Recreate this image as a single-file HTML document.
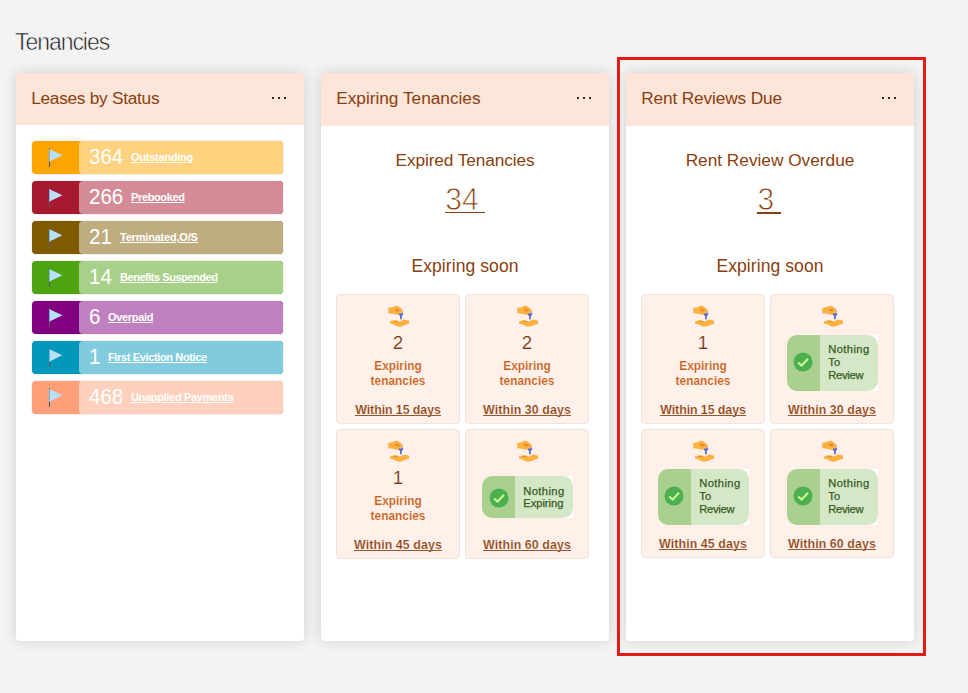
<!DOCTYPE html>
<html><head><meta charset="utf-8">
<style>
*{box-sizing:border-box;margin:0;padding:0}
html,body{width:968px;height:693px;overflow:hidden;background:#f3f3f3;font-family:"Liberation Sans",sans-serif;}
.abs{position:absolute}
#title{position:absolute;left:15px;top:26.5px;font-size:23px;color:#141414;line-height:30px;letter-spacing:-1.05px;white-space:nowrap;-webkit-text-stroke:0.6px #f3f3f3}
.card{position:absolute;top:73px;width:288px;height:568px;background:#fff;border-radius:0 0 4px 4px;box-shadow:0 0 14px rgba(0,0,0,.14)}
.hdr{position:absolute;left:0;top:0;width:288px;height:53px;background:#fde5da}
.hdr .t{position:absolute;left:15.2px;top:13px;font-size:17.3px;line-height:24px;color:#8a3f10;white-space:nowrap}
.dots{position:absolute;left:256px;top:24px;width:16px;height:3px}
.dots i{position:absolute;top:0;width:2px;height:2px;background:#2b2b2b}
.row{position:absolute;left:16px;width:251px;height:33px;border-radius:4px;overflow:hidden;box-shadow:0 0 1.5px rgba(0,0,40,.25)}
.row .lt{position:absolute;left:47px;top:0;width:204px;height:33px;border-radius:4px}
.row .n{position:absolute;left:57px;top:3px;font-size:21px;line-height:26px;color:#fff;white-space:nowrap;transform-origin:0 20px;transform:scale(0.975,1.07)}
.row .l{position:absolute;top:9px;font-size:11px;font-weight:bold;line-height:14px;color:#fff;text-decoration:underline;white-space:nowrap}
.row svg{position:absolute;left:16px;top:6px}
.big{position:absolute;left:0;width:288px;text-align:center;color:#8a3f10;white-space:nowrap}
.tile{position:absolute;width:124px;height:130px;background:#fff1ea;border:1px solid #f0e3dd;border-radius:4px}
.tile .num{position:absolute;left:0;top:37px;width:122px;text-align:center;font-size:18.7px;line-height:22px;color:#74340c;-webkit-text-stroke:0.2px #fff1ea}
.tile .et{position:absolute;left:0;top:64.3px;width:122px;text-align:center;font-size:11.9px;font-weight:bold;line-height:15px;color:#c65f18;-webkit-text-stroke:0.15px #fff1ea}
.tile .w{position:absolute;left:0;width:122px;display:flex;justify-content:center}
.tile .w span{display:block;font-size:12.4px;font-weight:bold;line-height:10.3px;color:#8a3f10;white-space:nowrap;letter-spacing:0.09px;-webkit-text-stroke:0.2px #fff1ea;border-bottom:1px solid #99562b}
.tile svg.hand{position:absolute;left:50.6px;top:10.2px}
.ul{text-decoration:underline;text-decoration-thickness:1px;text-underline-offset:4px}
.bd{position:absolute}
.bd .bl{position:absolute;left:0;top:0;height:100%;background:#a9d08e;border-radius:10px 0 0 10px}
.bd .br{position:absolute;top:0;height:100%;background:#fff}
.bd .br b{position:absolute;left:0;top:0;width:100%;height:100%;background:#d4e8c8;border-radius:0 10px 10px 0}
.bd .ck{position:absolute}
.bd .bt{position:absolute;font-size:11.2px;line-height:13px;color:#37591f;white-space:nowrap;font-weight:normal;-webkit-text-stroke:0.25px #37591f}
.bn{position:absolute;font-size:30px;line-height:34px;color:#8a3f10;white-space:nowrap;-webkit-text-stroke:0.8px #fff;transform-origin:0 27px;transform:scaleY(1.04)}
.un{position:absolute;height:1.6px;margin-top:0.5px;background:#8a3f10}
</style></head><body>
<div id="title">Tenancies</div>

<div class="card" style="left:16px">
 <div class="hdr" style="height:52px"><div class="t" style="letter-spacing:-0.28px">Leases by Status</div><div class="dots"><i style="left:0"></i><i style="left:6px"></i><i style="left:12px"></i></div></div>
 <div class="row" style="top:68px;background:#ffa500"><div class="lt" style="background:#ffd280"></div><svg width="16" height="22" viewBox="0 0 16 22"><rect x="1" y="1.1" width="1" height="18.9" fill="#555"/><path d="M1 1.9 L14.4 8.3 L1 14.8 Z" fill="#badffa"/><rect x="1" y="2.2" width="1" height="12.2" fill="#6db4ea"/></svg><div class="n">364</div><div class="l" style="left:99px;letter-spacing:-0.25px">Outstanding</div></div>
 <div class="row" style="top:108px;background:#a6192e"><div class="lt" style="background:#d38c97"></div><svg width="16" height="22" viewBox="0 0 16 22"><rect x="1" y="1.1" width="1" height="18.9" fill="#555"/><path d="M1 1.9 L14.4 8.3 L1 14.8 Z" fill="#badffa"/><rect x="1" y="2.2" width="1" height="12.2" fill="#6db4ea"/></svg><div class="n">266</div><div class="l" style="left:99px;letter-spacing:-0.36px">Prebooked</div></div>
 <div class="row" style="top:148px;background:#7f5a00"><div class="lt" style="background:#bfad80"></div><svg width="16" height="22" viewBox="0 0 16 22"><rect x="1" y="1.1" width="1" height="18.9" fill="#555"/><path d="M1 1.9 L14.4 8.3 L1 14.8 Z" fill="#badffa"/><rect x="1" y="2.2" width="1" height="12.2" fill="#6db4ea"/></svg><div class="n">21</div><div class="l" style="left:88px;letter-spacing:-0.2px">Terminated,O/S</div></div>
 <div class="row" style="top:188px;background:#4ea310"><div class="lt" style="background:#a7d188"></div><svg width="16" height="22" viewBox="0 0 16 22"><rect x="1" y="1.1" width="1" height="18.9" fill="#555"/><path d="M1 1.9 L14.4 8.3 L1 14.8 Z" fill="#badffa"/><rect x="1" y="2.2" width="1" height="12.2" fill="#6db4ea"/></svg><div class="n">14</div><div class="l" style="left:88px;letter-spacing:-0.46px">Benefits Suspended</div></div>
 <div class="row" style="top:228px;background:#800080"><div class="lt" style="background:#c080c0"></div><svg width="16" height="22" viewBox="0 0 16 22"><rect x="1" y="1.1" width="1" height="18.9" fill="#555"/><path d="M1 1.9 L14.4 8.3 L1 14.8 Z" fill="#badffa"/><rect x="1" y="2.2" width="1" height="12.2" fill="#6db4ea"/></svg><div class="n">6</div><div class="l" style="left:76px;letter-spacing:-0.33px">Overpaid</div></div>
 <div class="row" style="top:268px;background:#0099bc"><div class="lt" style="background:#80ccde"></div><svg width="16" height="22" viewBox="0 0 16 22"><rect x="1" y="1.1" width="1" height="18.9" fill="#555"/><path d="M1 1.9 L14.4 8.3 L1 14.8 Z" fill="#badffa"/><rect x="1" y="2.2" width="1" height="12.2" fill="#6db4ea"/></svg><div class="n">1</div><div class="l" style="left:76px;letter-spacing:-0.36px">First Eviction Notice</div></div>
 <div class="row" style="top:308px;background:#ffa07a"><div class="lt" style="background:#ffd0bd"></div><svg width="16" height="22" viewBox="0 0 16 22"><rect x="1" y="1.1" width="1" height="18.9" fill="#555"/><path d="M1 1.9 L14.4 8.3 L1 14.8 Z" fill="#badffa"/><rect x="1" y="2.2" width="1" height="12.2" fill="#6db4ea"/></svg><div class="n">468</div><div class="l" style="left:99px;letter-spacing:-0.32px">Unapplied Payments</div></div>
</div>
<div class="card" style="left:321px">
 <div class="hdr"><div class="t" style="letter-spacing:-0.02px">Expiring Tenancies</div><div class="dots"><i style="left:0"></i><i style="left:6px"></i><i style="left:12px"></i></div></div>
 <div class="big" style="top:75px;font-size:17.3px;line-height:24px;letter-spacing:-0.11px">Expired Tenancies</div>
 <div class="bn" style="left:124.3px;top:110px">34</div><div class="un" style="left:124.3px;top:138.4px;width:39.4px"></div>
 <div class="big" style="top:181px;font-size:17.5px;line-height:24px;letter-spacing:0.08px">Expiring soon</div>
 <div class="tile" style="left:15px;top:221px;height:130px"><svg class="hand" width="22" height="22" viewBox="0 0 22 22"><path d="M0.3 2.8 L4.5 2.2 Q7 0.8 8.6 0.8 Q12.6 2 15.4 6.4 L12.8 7.6 L11.6 9.8 Q8 10 5 8.8 L0.3 8.2 Z" fill="#fbb040"/><path d="M6.6 4.4 Q8.6 3 11.6 4.8 Q11.8 6.2 10 6.6 Q7 6.4 6.6 4.4Z" fill="#de8f28"/><path d="M12.4 8.4 Q13 7 14.4 7.2 Q15.5 7.6 15.3 8.6Z" fill="#8f9cdc"/><path d="M10.7 8.9 Q12.8 8 15.3 8.5 Q15.4 10.3 13.8 10.7 L13.8 13.8 L12.95 14.7 L12.1 13.8 L12.1 10.7 Q10.7 10.4 10.7 8.9Z" fill="#5566c4"/><path d="M9 18.6 L13.6 17.4 M10.6 19.6 L14.6 18.2" stroke="#fdd28a" stroke-width="0.7" fill="none"/><path d="M2 16.6 L6 15.2 Q9.5 15.2 12 16.4 L15.4 14.8 Q17.6 14.4 21.2 15.8 L20.8 19 L18 19.4 Q14 21.6 11 21.8 Q8.6 21.2 5.6 19.4 L2 18.4 Z" fill="#fbb040"/><path d="M4.8 16 Q7.6 15.2 9.6 16.6 L8.4 17.4 Q6.2 17 4.8 16Z" fill="#de8f28"/></svg><div class="num">2</div><div class="et">Expiring<br>tenancies</div><div class="w" style="top:109.55px"><span style="letter-spacing:-0.08px">Within 15 days</span></div></div>
 <div class="tile" style="left:144px;top:221px;height:130px"><svg class="hand" width="22" height="22" viewBox="0 0 22 22"><path d="M0.3 2.8 L4.5 2.2 Q7 0.8 8.6 0.8 Q12.6 2 15.4 6.4 L12.8 7.6 L11.6 9.8 Q8 10 5 8.8 L0.3 8.2 Z" fill="#fbb040"/><path d="M6.6 4.4 Q8.6 3 11.6 4.8 Q11.8 6.2 10 6.6 Q7 6.4 6.6 4.4Z" fill="#de8f28"/><path d="M12.4 8.4 Q13 7 14.4 7.2 Q15.5 7.6 15.3 8.6Z" fill="#8f9cdc"/><path d="M10.7 8.9 Q12.8 8 15.3 8.5 Q15.4 10.3 13.8 10.7 L13.8 13.8 L12.95 14.7 L12.1 13.8 L12.1 10.7 Q10.7 10.4 10.7 8.9Z" fill="#5566c4"/><path d="M9 18.6 L13.6 17.4 M10.6 19.6 L14.6 18.2" stroke="#fdd28a" stroke-width="0.7" fill="none"/><path d="M2 16.6 L6 15.2 Q9.5 15.2 12 16.4 L15.4 14.8 Q17.6 14.4 21.2 15.8 L20.8 19 L18 19.4 Q14 21.6 11 21.8 Q8.6 21.2 5.6 19.4 L2 18.4 Z" fill="#fbb040"/><path d="M4.8 16 Q7.6 15.2 9.6 16.6 L8.4 17.4 Q6.2 17 4.8 16Z" fill="#de8f28"/></svg><div class="num">2</div><div class="et">Expiring<br>tenancies</div><div class="w" style="top:109.55px"><span>Within 30 days</span></div></div>
 <div class="tile" style="left:15px;top:356px;height:130px"><svg class="hand" width="22" height="22" viewBox="0 0 22 22"><path d="M0.3 2.8 L4.5 2.2 Q7 0.8 8.6 0.8 Q12.6 2 15.4 6.4 L12.8 7.6 L11.6 9.8 Q8 10 5 8.8 L0.3 8.2 Z" fill="#fbb040"/><path d="M6.6 4.4 Q8.6 3 11.6 4.8 Q11.8 6.2 10 6.6 Q7 6.4 6.6 4.4Z" fill="#de8f28"/><path d="M12.4 8.4 Q13 7 14.4 7.2 Q15.5 7.6 15.3 8.6Z" fill="#8f9cdc"/><path d="M10.7 8.9 Q12.8 8 15.3 8.5 Q15.4 10.3 13.8 10.7 L13.8 13.8 L12.95 14.7 L12.1 13.8 L12.1 10.7 Q10.7 10.4 10.7 8.9Z" fill="#5566c4"/><path d="M9 18.6 L13.6 17.4 M10.6 19.6 L14.6 18.2" stroke="#fdd28a" stroke-width="0.7" fill="none"/><path d="M2 16.6 L6 15.2 Q9.5 15.2 12 16.4 L15.4 14.8 Q17.6 14.4 21.2 15.8 L20.8 19 L18 19.4 Q14 21.6 11 21.8 Q8.6 21.2 5.6 19.4 L2 18.4 Z" fill="#fbb040"/><path d="M4.8 16 Q7.6 15.2 9.6 16.6 L8.4 17.4 Q6.2 17 4.8 16Z" fill="#de8f28"/></svg><div class="num">1</div><div class="et">Expiring<br>tenancies</div><div class="w" style="top:109.55px"><span>Within 45 days</span></div></div>
 <div class="tile" style="left:144px;top:356px;height:130px"><svg class="hand" width="22" height="22" viewBox="0 0 22 22"><path d="M0.3 2.8 L4.5 2.2 Q7 0.8 8.6 0.8 Q12.6 2 15.4 6.4 L12.8 7.6 L11.6 9.8 Q8 10 5 8.8 L0.3 8.2 Z" fill="#fbb040"/><path d="M6.6 4.4 Q8.6 3 11.6 4.8 Q11.8 6.2 10 6.6 Q7 6.4 6.6 4.4Z" fill="#de8f28"/><path d="M12.4 8.4 Q13 7 14.4 7.2 Q15.5 7.6 15.3 8.6Z" fill="#8f9cdc"/><path d="M10.7 8.9 Q12.8 8 15.3 8.5 Q15.4 10.3 13.8 10.7 L13.8 13.8 L12.95 14.7 L12.1 13.8 L12.1 10.7 Q10.7 10.4 10.7 8.9Z" fill="#5566c4"/><path d="M9 18.6 L13.6 17.4 M10.6 19.6 L14.6 18.2" stroke="#fdd28a" stroke-width="0.7" fill="none"/><path d="M2 16.6 L6 15.2 Q9.5 15.2 12 16.4 L15.4 14.8 Q17.6 14.4 21.2 15.8 L20.8 19 L18 19.4 Q14 21.6 11 21.8 Q8.6 21.2 5.6 19.4 L2 18.4 Z" fill="#fbb040"/><path d="M4.8 16 Q7.6 15.2 9.6 16.6 L8.4 17.4 Q6.2 17 4.8 16Z" fill="#de8f28"/></svg><div class="bd" style="left:16px;top:46px;width:90.5px;height:42px"><div class="bl" style="width:33px"></div><div class="br" style="left:33px;width:57.5px"><b></b></div><svg class="ck" style="left:6.5px;top:11.9px" width="20" height="20" viewBox="0 0 20 20"><circle cx="10" cy="10" r="9.5" fill="#4caf50"/><path d="M5.2 10.6 L8.6 13.6 L15 6.8" fill="none" stroke="#ccff90" stroke-width="2"/></svg><div class="bt" style="left:41.3px;top:8.7px;line-height:12.4px"><span style="letter-spacing:0.38px">Nothing</span><br><span style="letter-spacing:-0.05px">Expiring</span></div></div><div class="w" style="top:109.55px"><span>Within 60 days</span></div></div>
</div>
<div class="abs" style="left:617px;top:57px;width:309px;height:599px;border:3px solid #e71919;z-index:5"></div>
<div class="card" style="left:626px">
 <div class="hdr"><div class="t" style="letter-spacing:-0.15px">Rent Reviews Due</div><div class="dots"><i style="left:0"></i><i style="left:6px"></i><i style="left:12px"></i></div></div>
 <div class="big" style="top:75px;font-size:17.3px;line-height:24px;letter-spacing:-0.02px">Rent Review Overdue</div>
 <div class="bn" style="left:131.4px;top:110px">3</div><div class="un" style="left:131.4px;top:138.6px;width:23.6px"></div>
 <div class="big" style="top:181px;font-size:17.5px;line-height:24px;letter-spacing:0.08px">Expiring soon</div>
 <div class="tile" style="left:15px;top:221px;height:130px"><svg class="hand" width="22" height="22" viewBox="0 0 22 22"><path d="M0.3 2.8 L4.5 2.2 Q7 0.8 8.6 0.8 Q12.6 2 15.4 6.4 L12.8 7.6 L11.6 9.8 Q8 10 5 8.8 L0.3 8.2 Z" fill="#fbb040"/><path d="M6.6 4.4 Q8.6 3 11.6 4.8 Q11.8 6.2 10 6.6 Q7 6.4 6.6 4.4Z" fill="#de8f28"/><path d="M12.4 8.4 Q13 7 14.4 7.2 Q15.5 7.6 15.3 8.6Z" fill="#8f9cdc"/><path d="M10.7 8.9 Q12.8 8 15.3 8.5 Q15.4 10.3 13.8 10.7 L13.8 13.8 L12.95 14.7 L12.1 13.8 L12.1 10.7 Q10.7 10.4 10.7 8.9Z" fill="#5566c4"/><path d="M9 18.6 L13.6 17.4 M10.6 19.6 L14.6 18.2" stroke="#fdd28a" stroke-width="0.7" fill="none"/><path d="M2 16.6 L6 15.2 Q9.5 15.2 12 16.4 L15.4 14.8 Q17.6 14.4 21.2 15.8 L20.8 19 L18 19.4 Q14 21.6 11 21.8 Q8.6 21.2 5.6 19.4 L2 18.4 Z" fill="#fbb040"/><path d="M4.8 16 Q7.6 15.2 9.6 16.6 L8.4 17.4 Q6.2 17 4.8 16Z" fill="#de8f28"/></svg><div class="num">1</div><div class="et">Expiring<br>tenancies</div><div class="w" style="top:109.55px"><span style="letter-spacing:-0.08px">Within 15 days</span></div></div>
 <div class="tile" style="left:144px;top:221px;height:130px"><svg class="hand" width="22" height="22" viewBox="0 0 22 22"><path d="M0.3 2.8 L4.5 2.2 Q7 0.8 8.6 0.8 Q12.6 2 15.4 6.4 L12.8 7.6 L11.6 9.8 Q8 10 5 8.8 L0.3 8.2 Z" fill="#fbb040"/><path d="M6.6 4.4 Q8.6 3 11.6 4.8 Q11.8 6.2 10 6.6 Q7 6.4 6.6 4.4Z" fill="#de8f28"/><path d="M12.4 8.4 Q13 7 14.4 7.2 Q15.5 7.6 15.3 8.6Z" fill="#8f9cdc"/><path d="M10.7 8.9 Q12.8 8 15.3 8.5 Q15.4 10.3 13.8 10.7 L13.8 13.8 L12.95 14.7 L12.1 13.8 L12.1 10.7 Q10.7 10.4 10.7 8.9Z" fill="#5566c4"/><path d="M9 18.6 L13.6 17.4 M10.6 19.6 L14.6 18.2" stroke="#fdd28a" stroke-width="0.7" fill="none"/><path d="M2 16.6 L6 15.2 Q9.5 15.2 12 16.4 L15.4 14.8 Q17.6 14.4 21.2 15.8 L20.8 19 L18 19.4 Q14 21.6 11 21.8 Q8.6 21.2 5.6 19.4 L2 18.4 Z" fill="#fbb040"/><path d="M4.8 16 Q7.6 15.2 9.6 16.6 L8.4 17.4 Q6.2 17 4.8 16Z" fill="#de8f28"/></svg><div class="bd" style="left:16px;top:40px;width:90.5px;height:56px"><div class="bl" style="width:33px"></div><div class="br" style="left:33px;width:57.5px"><b></b></div><svg class="ck" style="left:6px;top:17.2px" width="20" height="20" viewBox="0 0 20 20"><circle cx="10" cy="10" r="9.5" fill="#4caf50"/><path d="M5.2 10.6 L8.6 13.6 L15 6.8" fill="none" stroke="#ccff90" stroke-width="2"/></svg><div class="bt" style="left:41.3px;top:8px"><span style="letter-spacing:0.38px">Nothing</span><br>To<br><span style="letter-spacing:-0.3px">Review</span></div></div><div class="w" style="top:109.55px"><span>Within 30 days</span></div></div>
 <div class="tile" style="left:15px;top:356px;height:129px"><svg class="hand" width="22" height="22" viewBox="0 0 22 22"><path d="M0.3 2.8 L4.5 2.2 Q7 0.8 8.6 0.8 Q12.6 2 15.4 6.4 L12.8 7.6 L11.6 9.8 Q8 10 5 8.8 L0.3 8.2 Z" fill="#fbb040"/><path d="M6.6 4.4 Q8.6 3 11.6 4.8 Q11.8 6.2 10 6.6 Q7 6.4 6.6 4.4Z" fill="#de8f28"/><path d="M12.4 8.4 Q13 7 14.4 7.2 Q15.5 7.6 15.3 8.6Z" fill="#8f9cdc"/><path d="M10.7 8.9 Q12.8 8 15.3 8.5 Q15.4 10.3 13.8 10.7 L13.8 13.8 L12.95 14.7 L12.1 13.8 L12.1 10.7 Q10.7 10.4 10.7 8.9Z" fill="#5566c4"/><path d="M9 18.6 L13.6 17.4 M10.6 19.6 L14.6 18.2" stroke="#fdd28a" stroke-width="0.7" fill="none"/><path d="M2 16.6 L6 15.2 Q9.5 15.2 12 16.4 L15.4 14.8 Q17.6 14.4 21.2 15.8 L20.8 19 L18 19.4 Q14 21.6 11 21.8 Q8.6 21.2 5.6 19.4 L2 18.4 Z" fill="#fbb040"/><path d="M4.8 16 Q7.6 15.2 9.6 16.6 L8.4 17.4 Q6.2 17 4.8 16Z" fill="#de8f28"/></svg><div class="bd" style="left:16px;top:38.8px;width:90.5px;height:56px"><div class="bl" style="width:33px"></div><div class="br" style="left:33px;width:57.5px"><b></b></div><svg class="ck" style="left:6px;top:17.2px" width="20" height="20" viewBox="0 0 20 20"><circle cx="10" cy="10" r="9.5" fill="#4caf50"/><path d="M5.2 10.6 L8.6 13.6 L15 6.8" fill="none" stroke="#ccff90" stroke-width="2"/></svg><div class="bt" style="left:41.3px;top:8px"><span style="letter-spacing:0.38px">Nothing</span><br>To<br><span style="letter-spacing:-0.3px">Review</span></div></div><div class="w" style="top:108.55px"><span>Within 45 days</span></div></div>
 <div class="tile" style="left:144px;top:356px;height:129px"><svg class="hand" width="22" height="22" viewBox="0 0 22 22"><path d="M0.3 2.8 L4.5 2.2 Q7 0.8 8.6 0.8 Q12.6 2 15.4 6.4 L12.8 7.6 L11.6 9.8 Q8 10 5 8.8 L0.3 8.2 Z" fill="#fbb040"/><path d="M6.6 4.4 Q8.6 3 11.6 4.8 Q11.8 6.2 10 6.6 Q7 6.4 6.6 4.4Z" fill="#de8f28"/><path d="M12.4 8.4 Q13 7 14.4 7.2 Q15.5 7.6 15.3 8.6Z" fill="#8f9cdc"/><path d="M10.7 8.9 Q12.8 8 15.3 8.5 Q15.4 10.3 13.8 10.7 L13.8 13.8 L12.95 14.7 L12.1 13.8 L12.1 10.7 Q10.7 10.4 10.7 8.9Z" fill="#5566c4"/><path d="M9 18.6 L13.6 17.4 M10.6 19.6 L14.6 18.2" stroke="#fdd28a" stroke-width="0.7" fill="none"/><path d="M2 16.6 L6 15.2 Q9.5 15.2 12 16.4 L15.4 14.8 Q17.6 14.4 21.2 15.8 L20.8 19 L18 19.4 Q14 21.6 11 21.8 Q8.6 21.2 5.6 19.4 L2 18.4 Z" fill="#fbb040"/><path d="M4.8 16 Q7.6 15.2 9.6 16.6 L8.4 17.4 Q6.2 17 4.8 16Z" fill="#de8f28"/></svg><div class="bd" style="left:16px;top:38.8px;width:90.5px;height:56px"><div class="bl" style="width:33px"></div><div class="br" style="left:33px;width:57.5px"><b></b></div><svg class="ck" style="left:6px;top:17.2px" width="20" height="20" viewBox="0 0 20 20"><circle cx="10" cy="10" r="9.5" fill="#4caf50"/><path d="M5.2 10.6 L8.6 13.6 L15 6.8" fill="none" stroke="#ccff90" stroke-width="2"/></svg><div class="bt" style="left:41.3px;top:8px"><span style="letter-spacing:0.38px">Nothing</span><br>To<br><span style="letter-spacing:-0.3px">Review</span></div></div><div class="w" style="top:108.55px"><span>Within 60 days</span></div></div>
</div>
</body></html>
